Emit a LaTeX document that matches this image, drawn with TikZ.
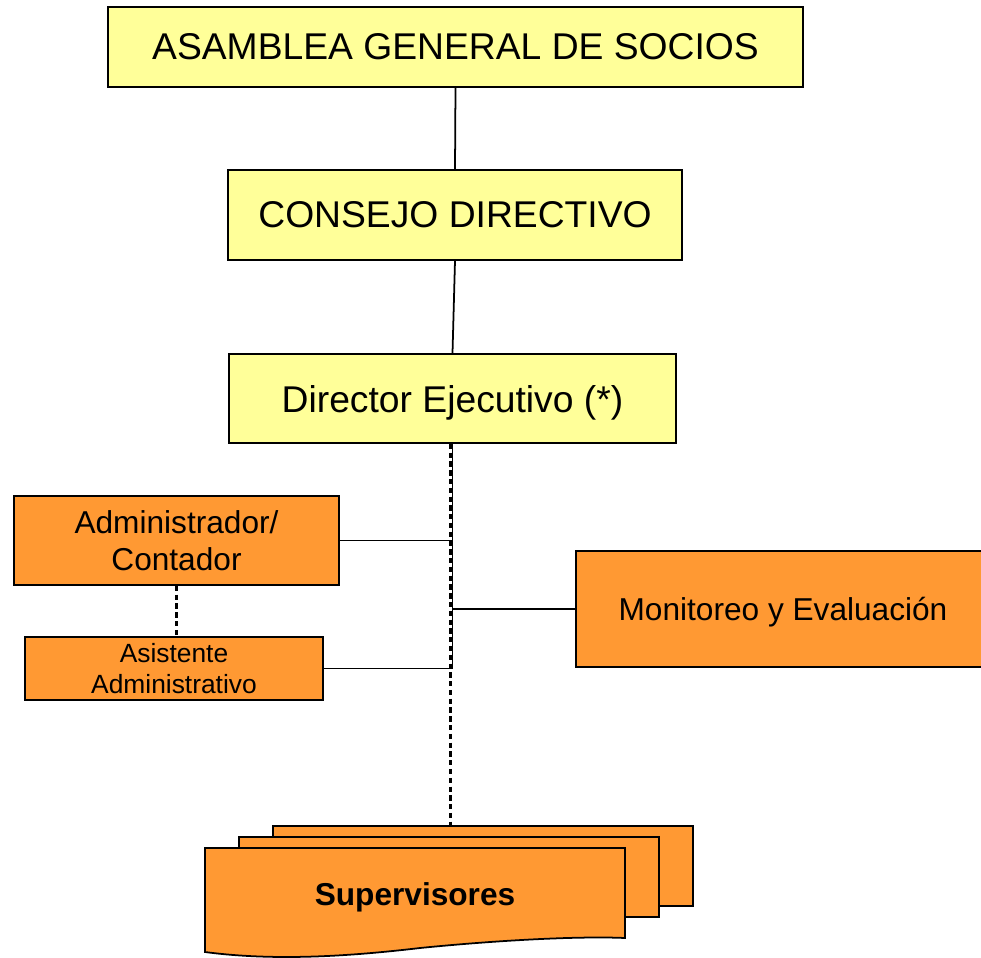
\documentclass[tikz,border=0pt]{standalone}
\usepackage{fontspec}
\setmainfont{Liberation Sans}
\definecolor{amarillo}{HTML}{FFFF99}
\definecolor{naranja}{HTML}{FF9933}
\begin{document}
\begin{tikzpicture}[
		caja/.style={draw, line width=1pt, inner sep=0pt, align=center},
		alta/.style={caja, fill=amarillo, font=\fontsize{21.2}{25}\selectfont},
		baja/.style={caja, fill=naranja, font=\fontsize{18}{21}\selectfont},
		hoja/.style={draw, line width=1pt, fill=naranja, minimum width=8.4cm, minimum height=1.6cm},
		linea/.style={line width=1pt},
		punteada/.style={line width=1.2pt, dash pattern=on 3pt off 2pt}]
			\useasboundingbox (0,0) rectangle (19.62,-19.16);
			\node[alta, minimum width=13.9cm, minimum height=1.6cm] at (9.11, -0.94) (asamblea) {ASAMBLEA GENERAL DE SOCIOS};
			\node[alta, minimum width=9.08cm, minimum height=1.8cm] at (9.1, -4.3) (consejo) {CONSEJO DIRECTIVO};
			\node[alta, minimum width=8.94cm, minimum height=1.78cm, text depth=0pt] at (9.05, -7.97) (director) {Director Ejecutivo (*)};
			\node[baja, minimum width=6.5cm, minimum height=1.78cm] at (3.53, -10.81) (admin) {Administrador/\\Contador};
			\node[baja, minimum width=5.96cm, minimum height=1.26cm, font=\fontsize{15}{18}\selectfont] at (3.48, -13.37) (asistente) {Asistente\\Administrativo};
			\node[baja, minimum width=8.28cm, minimum height=2.32cm, text depth=0pt] at (15.66, -12.18) (monitoreo) {Monitoreo y Evaluación};
			% supervisores
			\node[hoja] at (9.66, -17.32) (sup3) {};
			\node[hoja] at (8.98, -17.54) (sup2) {};
			\draw[line width=1pt, fill=naranja] (4.1, -16.96) -- (12.5, -16.96) -- (12.5, -18.76)
				.. controls (11.6, -18.72) and (10, -18.8) .. (8.4, -18.96)
				.. controls (7.2, -19.1) and (5.6, -19.24) .. (4.1, -19.04) -- cycle;
			\node[font=\fontsize{18}{21}\selectfont\bfseries] at (8.3, -17.95) (sup) {Supervisores};
			% conectores
			\draw[punteada] ([xshift=-0.04cm]director.south) -- ([xshift=-0.04cm]director.south |- sup3.north);
			\draw[linea] (asamblea.south) -- (consejo.north);
			\draw[linea] (consejo.south) -- (director.north);
			\draw[linea] (director.south) -- (director.south |- asistente.east) -- (asistente.east);
			\draw[linea] (admin.east) -- (admin.east -| director.south);
			\draw[linea] (monitoreo.west) -- (monitoreo.west -| director.south);
			\draw[punteada] (admin.south) -- (admin.south |- asistente.north);
		\end{tikzpicture}
\end{document}
